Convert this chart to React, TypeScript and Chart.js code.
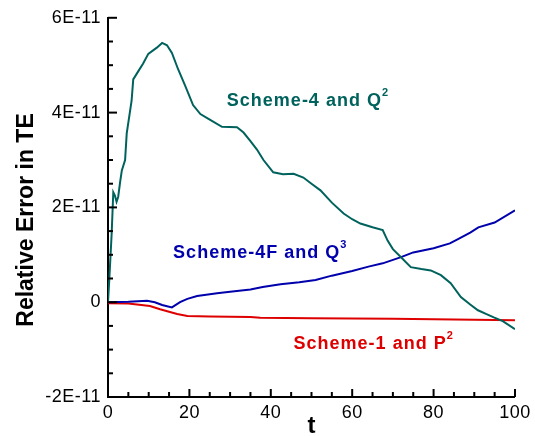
import React, { useEffect, useRef } from "react";
import { Chart, registerables } from "chart.js";

Chart.register(...registerables);

// Values are in units of 1E-11
const scheme4Q2: [number, number][] = [
  [0, 0], [0.3, 0.45], [0.9, 1.45], [1.3, 2.32], [1.7, 2.25], [2.1, 2.12], [2.5, 2.22],
  [3.0, 2.55], [3.4, 2.78], [4.2, 3.0], [4.6, 3.56], [5.8, 4.25], [6.2, 4.7], [7.5, 4.88],
  [8.6, 5.03], [9.9, 5.24], [12, 5.37], [13.3, 5.47], [14.5, 5.42], [15.7, 5.26],
  [17.2, 4.92], [18.9, 4.58], [20.9, 4.16], [22.7, 3.97], [25, 3.85], [28, 3.7],
  [31.7, 3.69], [33.3, 3.58], [35, 3.4], [36.6, 3.22], [38.2, 3.0], [40.6, 2.74],
  [43, 2.7], [45.6, 2.71], [48, 2.63], [50, 2.5], [52.2, 2.36], [55, 2.1], [57.9, 1.87],
  [60, 1.75], [62, 1.66], [65, 1.58], [67.5, 1.52], [68.7, 1.3], [70, 1.12], [72, 0.95],
  [74.4, 0.74], [77, 0.7], [79.3, 0.67], [81.8, 0.57], [84.2, 0.4], [86.7, 0.11],
  [89, -0.05], [90.9, -0.17], [93, -0.25], [94.8, -0.32], [97, -0.4], [100, -0.57],
];

const scheme4FQ3: [number, number][] = [
  [0, 0], [5, 0.01], [9.6, 0.03], [11.5, 0.0], [13.3, -0.06], [15.7, -0.11], [17.7, 0.0],
  [19.5, 0.07], [21.9, 0.13], [26.8, 0.19], [30, 0.22], [35, 0.27], [38, 0.32], [42.4, 0.38],
  [47, 0.42], [51, 0.47], [55, 0.56], [60, 0.66], [64, 0.75], [67.5, 0.82], [72, 0.95],
  [75, 1.05], [80, 1.14], [84, 1.24], [86, 1.33], [89, 1.47], [91, 1.58], [95, 1.68],
  [100, 1.94],
];

const scheme1P2: [number, number][] = [
  [0, -0.02], [5, -0.03], [10.3, -0.08], [12.8, -0.15], [15, -0.2], [17, -0.25],
  [19.5, -0.29], [25, -0.3], [35, -0.31], [37.4, -0.33], [50, -0.34], [70, -0.35],
  [90, -0.37], [100, -0.38],
];

const seriesNames = ["Scheme-4 and Q", "Scheme-4F and Q", "Scheme-1 and P"];
const seriesSups = ["2", "3", "2"];
// label anchors (left, baseline) in data units
const labelT = [29.2, 16.0, 45.6];
const labelV = [4.13, 0.94, -0.98];

const xMin = 0, xMax = 100, xStep = 20, xMinor = 5;
const yMin = -2, yMax = 6, yStep = 2, yMinor = 0.5;

const TEAL = "rgb(0,98,92)";
const BLUE = "rgb(0,0,172)";
const RED = "rgb(222,0,0)";
const colors = [TEAL, BLUE, RED];
const FONT = 'Arial, "Liberation Sans", Helvetica, sans-serif';

const toXY = (arr: [number, number][]) => arr.map(([x, y]) => ({ x, y }));

const decorPlugin = {
  id: "decor",
  beforeDraw(chart: any) {
    chart.ctx.letterSpacing = "0.5px";
  },
  afterDraw(chart: any) {
    const { ctx, scales } = chart;
    const xs = scales.x, ys = scales.y;
    const axisY = chart.chartArea.bottom;
    const axisX = chart.chartArea.left;
    ctx.save();
    ctx.strokeStyle = "#000";
    ctx.lineWidth = 2;
    // x ticks (inward)
    for (let v = xMin; v <= xMax + 1e-9; v += xMinor) {
      const px = xs.getPixelForValue(v);
      const len = Math.abs(v % xStep) < 1e-9 ? 8 : 5;
      ctx.beginPath();
      ctx.moveTo(px, axisY);
      ctx.lineTo(px, axisY - len);
      ctx.stroke();
    }
    for (let v = yMin; v <= yMax + 1e-9; v += yMinor) {
      const py = ys.getPixelForValue(v);
      const len = Math.abs(v % yStep) < 1e-9 ? 9 : 5;
      ctx.beginPath();
      ctx.moveTo(axisX, py);
      ctx.lineTo(axisX + len, py);
      ctx.stroke();
    }
    // series labels
    ctx.textBaseline = "alphabetic";
    ctx.textAlign = "left";
    ctx.letterSpacing = "1px";
    for (let i = 0; i < seriesNames.length; i++) {
      const px = xs.getPixelForValue(labelT[i]);
      const py = ys.getPixelForValue(labelV[i]);
      ctx.fillStyle = colors[i];
      ctx.font = `bold 18px ${FONT}`;
      ctx.fillText(seriesNames[i], px, py);
      const w = ctx.measureText(seriesNames[i]).width;
      ctx.font = `bold 11px ${FONT}`;
      ctx.fillText(seriesSups[i], px + w, py - 10);
    }
    // axis titles
    ctx.letterSpacing = "0px";
    ctx.fillStyle = "#000";
    ctx.font = `bold 24px ${FONT}`;
    ctx.textAlign = "center";
    ctx.fillText("t", (xs.left + xs.right) / 2, 433);
    ctx.save();
    ctx.translate(33, 220);
    ctx.rotate(-Math.PI / 2);
    ctx.font = `bold 23px ${FONT}`;
    ctx.fillText("Relative Error in TE", 0, 0);
    ctx.restore();
    ctx.restore();
  },
};

export default function App() {
  const ref = useRef<HTMLCanvasElement>(null);
  useEffect(() => {
    if (!ref.current) return;
    const chart = new Chart(ref.current, {
      type: "line",
      data: {
        datasets: [
          { label: "Scheme-4 and Q2", data: toXY(scheme4Q2), borderColor: TEAL, borderWidth: 2, pointRadius: 0, tension: 0 },
          { label: "Scheme-4F and Q3", data: toXY(scheme4FQ3), borderColor: BLUE, borderWidth: 2, pointRadius: 0, tension: 0 },
          { label: "Scheme-1 and P2", data: toXY(scheme1P2), borderColor: RED, borderWidth: 2, pointRadius: 0, tension: 0 },
        ],
      },
      options: {
        animation: false,
        responsive: false,
        layout: { padding: { left: 0, top: 15, right: 19.5, bottom: 0 } },
        plugins: { legend: { display: false }, tooltip: { enabled: false } },
        scales: {
          x: {
            type: "linear",
            min: xMin,
            max: xMax,
            grid: { display: false, drawTicks: false },
            border: { display: true, color: "#000", width: 2 },
            ticks: { stepSize: xStep, color: "#000", font: { family: FONT, size: 18 }, padding: 5, maxRotation: 0 },
            afterFit: (s: any) => { s.height = 39; },
          },
          y: {
            type: "linear",
            min: yMin,
            max: yMax,
            grid: { display: false, drawTicks: false },
            border: { display: true, color: "#000", width: 2 },
            ticks: {
              stepSize: yStep,
              color: "#000",
              font: { family: FONT, size: 18 },
              padding: 7,
              callback: (v: any) => (Number(v) === 0 ? "0" : `${Number(v)}E-11`),
            },
            afterFit: (s: any) => { s.width = 108; },
          },
        },
      },
      plugins: [decorPlugin],
    });
    return () => chart.destroy();
  }, []);
  return (
    <div style={{ position: "absolute", left: 0, top: 0, width: 535, height: 436, background: "#fff" }}>
      <canvas ref={ref} width={535} height={436} style={{ display: "block", width: 535, height: 436 }} />
    </div>
  );
}
